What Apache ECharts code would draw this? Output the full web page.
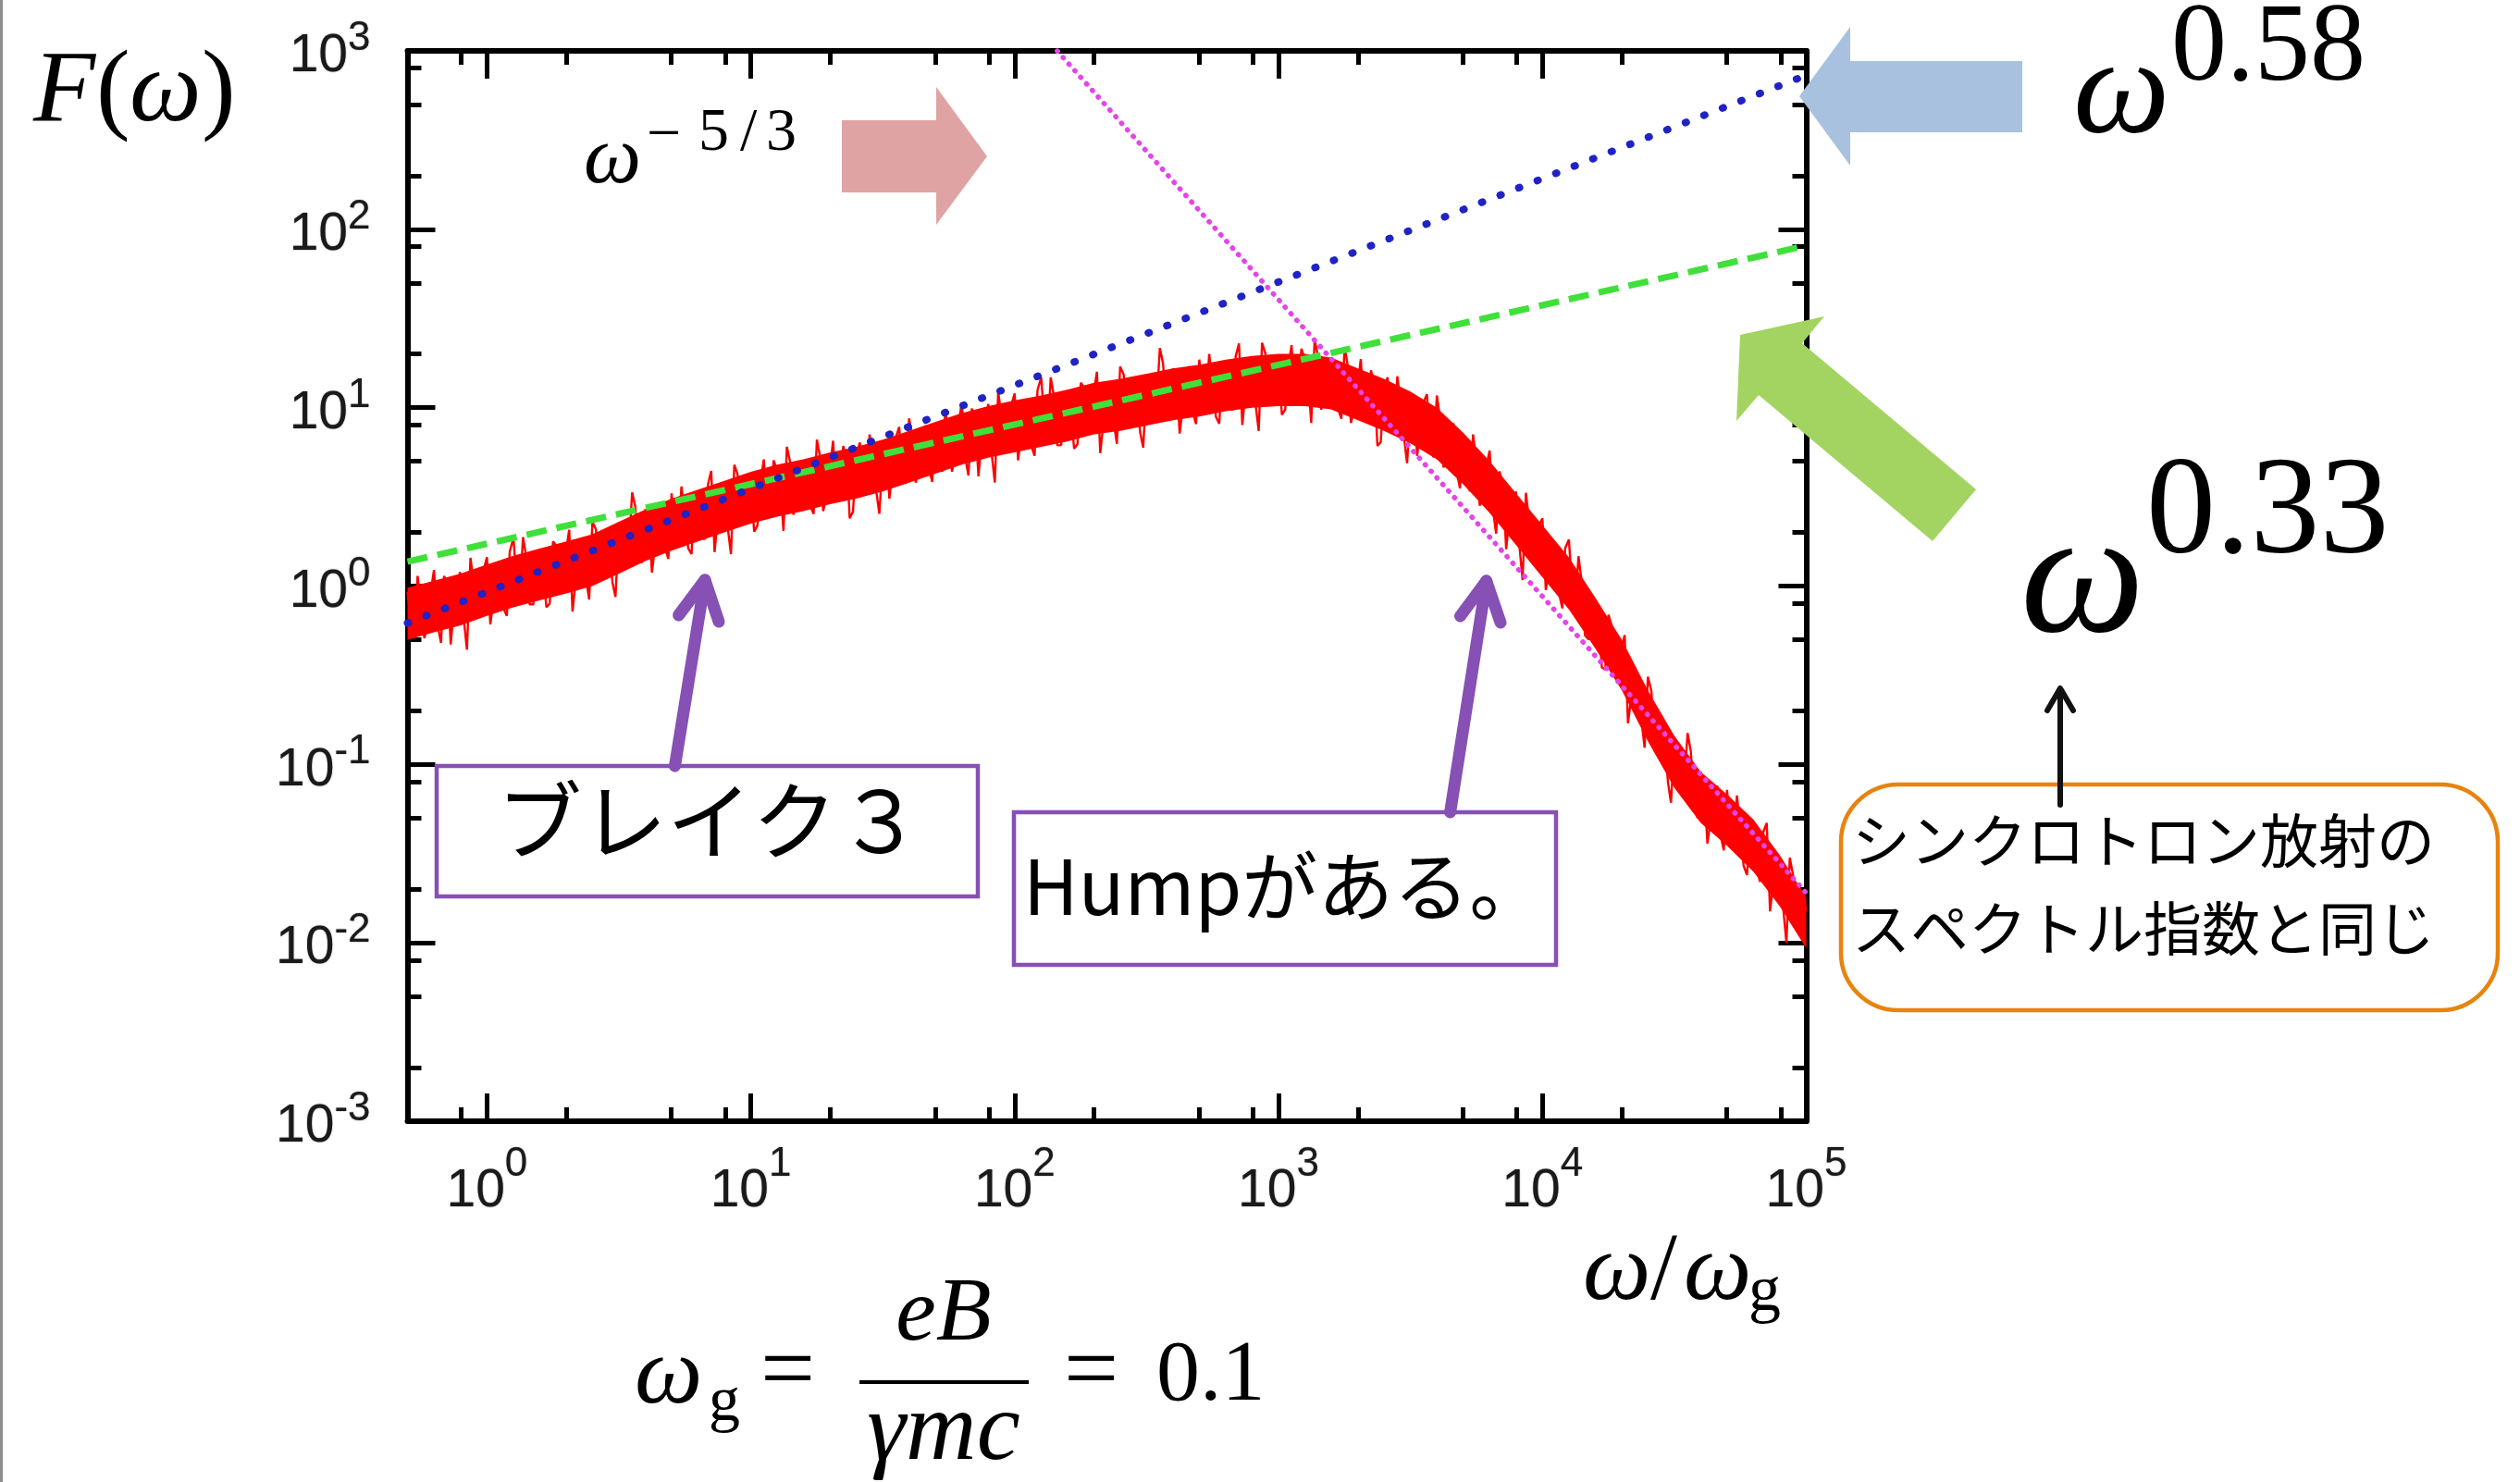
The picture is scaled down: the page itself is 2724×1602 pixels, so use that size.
<!DOCTYPE html>
<html>
<head>
<meta charset="utf-8">
<script src="https://cdn.jsdelivr.net/npm/echarts@6/dist/echarts.min.js"></script>
<style>
  html, body { margin: 0; padding: 0; background: #ffffff; }
  #chart { width: 2724px; height: 1602px; }
</style>
</head>
<body>
<div id="chart"></div>
<script>
// Frequency samples, omega / omega_g
const omega = [
  0.5, 0.515, 0.53, 0.546, 0.56, 0.579, 0.6, 0.613, 0.63, 0.649, 0.67, 0.688, 0.71, 0.729, 0.75, 0.772, 0.79, 0.818, 0.84, 0.866, 0.89, 0.917, 0.94, 0.972,
  1, 1.03, 1.06, 1.09, 1.12, 1.16, 1.19, 1.22, 1.26, 1.3, 1.33, 1.37, 1.41, 1.45, 1.5, 1.54, 1.58, 1.63, 1.68, 1.73, 1.78, 1.83, 1.88, 1.94, 2, 2.05,
  2.11, 2.18, 2.24, 2.31, 2.37, 2.44, 2.51, 2.59, 2.66, 2.74, 2.82, 2.9, 2.99, 3.07, 3.16, 3.26, 3.35, 3.45, 3.55, 3.65, 3.76, 3.87, 3.98, 4.1, 4.22, 4.34, 4.47, 4.6, 4.73, 4.87,
  5.01, 5.16, 5.31, 5.46, 5.62, 5.79, 5.96, 6.13, 6.31, 6.49, 6.68, 6.88, 7.08, 7.29, 7.5, 7.72, 7.94, 8.18, 8.41, 8.66, 8.91, 9.17, 9.44, 9.72,
  10, 10.3, 10.6, 10.9, 11.2, 11.6, 11.9, 12.2, 12.6, 13, 13.3, 13.7, 14.1, 14.5, 15, 15.4, 15.8, 16.3, 16.8, 17.3, 17.8, 18.3, 18.8, 19.4, 20, 20.5,
  21.1, 21.8, 22.4, 23.1, 23.7, 24.4, 25.1, 25.9, 26.6, 27.4, 28.2, 29, 29.9, 30.7, 31.6, 32.6, 33.5, 34.5, 35.5, 36.5, 37.6, 38.7, 39.8, 41, 42.2, 43.4, 44.7, 46, 47.3, 48.7,
  50.1, 51.6, 53.1, 54.6, 56.2, 57.9, 59.6, 61.3, 63.1, 64.9, 66.8, 68.8, 70.8, 72.9, 75, 77.2, 79.4, 81.8, 84.1, 86.6, 89.1, 91.7, 94.4, 97.2,
  100, 103, 106, 109, 112, 116, 119, 122, 126, 130, 133, 137, 141, 145, 150, 154, 158, 163, 168, 173, 178, 183, 188, 194, 200, 205,
  211, 218, 224, 231, 237, 244, 251, 259, 266, 274, 282, 290, 299, 307, 316, 326, 335, 345, 355, 365, 376, 387, 398, 410, 422, 434, 447, 460, 473, 487,
  501, 516, 531, 546, 562, 579, 596, 613, 631, 649, 668, 688, 708, 729, 750, 772, 794, 818, 841, 866, 891, 917, 944, 972,
  1000, 1030, 1060, 1090, 1120, 1160, 1190, 1220, 1260, 1300, 1330, 1370, 1410, 1450, 1500, 1540, 1580, 1630, 1680, 1730, 1780, 1830, 1880, 1940, 2000, 2050,
  2110, 2180, 2240, 2310, 2370, 2440, 2510, 2590, 2660, 2740, 2820, 2900, 2990, 3070, 3160, 3260, 3350, 3450, 3550, 3650, 3760, 3870, 3980, 4100, 4220, 4340, 4470, 4600, 4730, 4870,
  5010, 5160, 5310, 5460, 5620, 5790, 5960, 6130, 6310, 6490, 6680, 6880, 7080, 7290, 7500, 7720, 7940, 8180, 8410, 8660, 8910, 9170, 9440, 9720,
  10000, 10300, 10600, 10900, 11200, 11600, 11900, 12200, 12600, 13000, 13300, 13700, 14100, 14500, 15000, 15400, 15800, 16300, 16800, 17300, 17800, 18300, 18800, 19400, 20000, 20500,
  21100, 21800, 22400, 23100, 23700, 24400, 25100, 25900, 26600, 27400, 28200, 29000, 29900, 30700, 31600, 32600, 33500, 34500, 35500, 36500, 37600, 38700, 39800, 41000, 42200, 43400, 44700, 46000, 47300, 48700,
  50100, 51600, 53100, 54600, 56200, 57900, 59600, 61300, 63100, 64900, 66800, 68800, 70800, 72900, 75000, 77200, 79400, 81800, 84100, 86600, 89100, 91700, 94400, 97200,
  100000
];

// Spectrum F(omega) at the samples above
const spectrumF = [
  0.93, 0.64, 0.51, 1.14, 0.83, 0.51, 0.63, 0.94, 1.23, 0.61, 0.48, 1.14, 1.0, 0.47, 0.76, 0.92, 1.2, 0.64, 0.44, 1.44,
  1.06, 0.76, 0.71, 1.24, 1.45, 0.61, 0.85, 1.17, 1.08, 0.74, 0.68, 1.56, 1.86, 1.01, 0.87, 1.88, 1.45, 0.79, 0.79, 1.46,
  1.41, 1.24, 0.76, 0.8, 1.78, 1.68, 1.12, 1.01, 1.62, 2.07, 0.72, 1.16, 1.82, 1.64, 1.12, 0.84, 2.29, 2.08, 1.07, 1.14,
  1.68, 1.75, 1.05, 0.87, 2.04, 2.18, 1.35, 1.61, 3.35, 2.78, 1.58, 1.35, 2.69, 2.44, 1.19, 1.71, 2.4, 2.93, 1.64, 1.42,
  3.31, 2.02, 1.86, 3.62, 2.48, 1.63, 1.51, 3.05, 3.31, 1.98, 1.82, 3.71, 4.42, 1.55, 2.45, 3.05, 3.39, 2.12, 1.51, 4.78,
  4.22, 2.52, 2.45, 4.11, 3.55, 2.02, 2.19, 3.85, 5.13, 2.43, 2.82, 5.07, 4.47, 3.27, 2.04, 6.04, 4.95, 2.51, 3.31, 4.63,
  4.68, 3.94, 2.82, 2.54, 6.61, 5.31, 2.63, 3.2, 4.68, 6.52, 3.31, 3.64, 6.1, 5.12, 2.4, 2.61, 5.37, 6.38, 3.8, 3.43,
  7.08, 5.19, 3.39, 2.54, 5.13, 6.25, 3.09, 4.56, 6.84, 7.78, 4.27, 3.75, 8.71, 6.7, 3.8, 4.67, 6.68, 7.96, 4.57, 3.84,
  7.94, 5.45, 4.37, 9.75, 7.16, 4.38, 5.5, 8.2, 10.7, 5.31, 4.17, 9.89, 8.71, 4.12, 6.61, 8.04, 10.5, 5.55, 3.8, 12.3,
  9.02, 6.44, 5.89, 10.4, 12.0, 5.06, 7.08, 9.57, 8.81, 6.01, 5.37, 12.5, 14.8, 8.02, 6.92, 14.8, 11.4, 6.15, 6.17, 11.4,
  11.0, 9.66, 5.89, 6.24, 13.8, 13.0, 8.71, 7.85, 12.6, 15.9, 5.56, 8.86, 13.8, 12.4, 8.41, 6.27, 17.0, 15.3, 7.76, 8.15,
  11.9, 12.3, 7.24, 5.97, 13.8, 14.6, 8.91, 10.5, 21.6, 17.7, 10.0, 8.43, 16.6, 14.9, 7.16, 10.2, 14.1, 17.1, 9.44, 8.08,
  18.6, 11.3, 10.5, 20.0, 13.6, 8.89, 8.13, 16.4, 17.8, 10.5, 9.66, 19.4, 22.9, 7.99, 12.4, 15.4, 17.0, 10.5, 7.41, 23.1,
  20.2, 11.9, 11.5, 19.0, 16.2, 9.12, 9.77, 17.0, 22.4, 10.5, 12.0, 21.4, 18.6, 13.4, 8.22, 24.1, 19.5, 9.72, 12.7, 17.5,
  17.4, 14.2, 9.89, 8.66, 21.9, 17.1, 8.22, 9.72, 13.8, 18.7, 9.23, 9.94, 16.2, 13.3, 6.1, 6.42, 12.9, 14.8, 8.51, 7.48,
  15.0, 10.6, 6.76, 4.89, 9.55, 11.2, 5.37, 7.52, 10.8, 11.9, 6.17, 5.26, 11.7, 8.56, 4.62, 5.34, 7.24, 8.18, 4.42, 3.53,
  6.92, 4.47, 3.39, 7.08, 4.9, 2.82, 3.31, 4.68, 5.75, 2.68, 1.97, 4.39, 3.63, 1.61, 2.43, 2.77, 3.39, 1.69, 1.08, 3.33,
  2.29, 1.54, 1.33, 2.2, 2.4, 0.95, 1.24, 1.59, 1.38, 0.89, 0.75, 1.63, 1.82, 0.92, 0.73, 1.47, 1.05, 0.53, 0.5, 0.85,
  0.76, 0.62, 0.35, 0.34, 0.69, 0.6, 0.37, 0.31, 0.46, 0.53, 0.17, 0.25, 0.35, 0.29, 0.18, 0.124, 0.31, 0.256, 0.12, 0.115,
  0.15, 0.147, 0.08, 0.061, 0.13, 0.127, 0.072, 0.08, 0.15, 0.119, 0.063, 0.05, 0.091, 0.078, 0.036, 0.049, 0.065, 0.076, 0.04, 0.033,
  0.072, 0.042, 0.037, 0.067, 0.044, 0.027, 0.024, 0.045, 0.047, 0.026, 0.022, 0.042, 0.047, 0.015, 0.022, 0.026, 0.027, 0.0155, 0.010, 0.03,
  0.024, 0.0134, 0.012, 0.0186,
  0.015
];

// Dense core of the spectrum: upper / lower envelope
const coreOmega = [
  0.5, 0.63, 0.79, 1, 1.26, 1.58, 2, 2.51, 3.16, 3.98, 5.01, 6.31, 7.94, 10, 12.6, 15.8, 20, 25.1,
  31.6, 39.8, 50.1, 63.1, 79.4, 100, 126, 158, 200, 251, 316, 398, 501, 631, 794, 1000, 1260, 1580,
  2000, 2510, 3160, 3980, 5010, 6310, 7940, 10000, 12600, 15800, 20000, 25100, 31600, 39800, 50100, 63100, 79400, 100000
];
const coreUpper = [
  0.98, 1.07, 1.17, 1.32, 1.48, 1.62, 1.78, 1.95, 2.29, 2.69, 3.09, 3.47, 3.89, 4.37, 4.79, 5.13, 5.62, 6.03,
  6.61, 7.41, 8.32, 9.33, 10.2, 11.0, 11.7, 12.6, 13.8, 14.5, 15.5, 16.6, 17.4, 18.6, 19.5, 20.0, 20.0, 19.1,
  16.6, 14.5, 12.3, 10.0, 7.24, 5.01, 3.31, 2.19, 1.45, 0.87, 0.5, 0.26, 0.145, 0.091, 0.068, 0.049, 0.031, 0.018
];
const coreLower = [
  0.5, 0.55, 0.6, 0.68, 0.76, 0.83, 0.91, 1.0, 1.17, 1.38, 1.58, 1.78, 2.0, 2.24, 2.45, 2.63, 2.88, 3.09,
  3.39, 3.8, 4.27, 4.79, 5.25, 5.62, 6.03, 6.46, 7.08, 7.41, 7.94, 8.51, 8.91, 9.55, 10.0, 10.2, 10.2, 9.77,
  8.51, 7.41, 6.31, 5.13, 3.72, 2.57, 1.7, 1.12, 0.74, 0.45, 0.26, 0.135, 0.074, 0.047, 0.035, 0.025, 0.016, 0.0093
];

// Power-law guide lines (end points)
const fitSlope058 = [[0.5, 0.62], [100000, 730]];
const fitSlope033 = [[0.5, 1.37], [100000, 81]];
const fitSlopeKolmogorov = [[145, 1000], [100000, 0.019]];

// Axis decades and minor ticks
const xDecades = [0, 1, 2, 3, 4, 5];
const yDecades = [-3, -2, -1, 0, 1, 2, 3];
const xMinorTicks = [0.8, 2, 5, 8, 20, 50, 80, 200, 500, 800, 2000, 5000, 8000, 20000, 50000, 80000];
const yMinorTicks = [0.002, 0.005, 0.008, 0.02, 0.05, 0.08, 0.2, 0.5, 0.8, 2, 5, 8, 20, 50, 80, 200, 500, 800];

const lg = Math.log10;
const X_MIN = lg(0.5), X_MAX = 5, Y_MIN = -3, Y_MAX = 3;

const PURPLE = '#8650b4';
const SERIF = 'Liberation Serif';
const JP = 'Noto Sans CJK JP';
const AXIS_FONT = 'Liberation Sans';

const pts = arr => arr.map(p => [lg(p[0]), lg(p[1])]);

const tickStyle = { color: '#000', width: 5 };
const frameStyle = { color: '#000', width: 6 };

function expLabel(v) { return '{b|10}{s|' + Math.round(v) + '}'; }
function richFor(lineH) {
  const common = { fontFamily: AXIS_FONT, color: '#1a1a1a', textShadowColor: 'rgba(0,0,0,0.55)', textShadowBlur: 1.5, lineHeight: lineH };
  return {
    b: Object.assign({ fontSize: 57, verticalAlign: 'bottom' }, common),
    s: Object.assign({ fontSize: 44, verticalAlign: 'top' }, common)
  };
}

function makeAxis(pos, isX, major, withLabel) {
  const tickVals = major ? (isX ? xDecades : yDecades) : (isX ? xMinorTicks : yMinorTicks).map(lg);
  const ax = {
    type: 'value', position: pos,
    min: isX ? X_MIN : Y_MIN, max: isX ? X_MAX : Y_MAX,
    axisLine: { show: major, onZero: false, lineStyle: frameStyle },
    axisTick: { show: true, inside: true, length: major ? 30 : 15, customValues: tickVals, lineStyle: tickStyle },
    axisLabel: { show: false },
    splitLine: { show: false }
  };
  if (withLabel) {
    ax.axisLabel = {
      show: true,
      customValues: isX ? xDecades : yDecades,
      margin: isX ? 25 : 40,
      fontFamily: AXIS_FONT,
      fontSize: 57,
      color: '#1a1a1a',
      formatter: expLabel,
      rich: richFor(isX ? 80 : 70)
    };
  }
  return ax;
}

function text(x, y, str, size, italic, family, align) {
  return {
    type: 'text', x: x, y: y, z: 100,
    style: {
      text: str, fontFamily: family || SERIF, fontSize: size, fontStyle: italic ? 'italic' : 'normal',
      fill: '#000', textAlign: align || 'left', textVerticalAlign: 'middle', verticalAlign: 'middle'
    }
  };
}
function poly(points, fill) {
  return { type: 'polygon', z: 100, shape: { points: points }, style: { fill: fill } };
}
function stroke(points, color, width) {
  return { type: 'polyline', z: 101, shape: { points: points },
    style: { stroke: color, lineWidth: width, lineCap: 'round', lineJoin: 'round', fill: null } };
}

const chart = echarts.init(document.getElementById('chart'), null, { width: 2724, height: 1602, renderer: 'canvas' });

chart.setOption({
  animation: false,
  backgroundColor: '#ffffff',
  grid: { left: 440.5, right: 771.5, top: 55, bottom: 390, containLabel: false, outerBoundsMode: 'none' },
  xAxis: [
    makeAxis('bottom', true, true, true),
    makeAxis('bottom', true, false, false),
    makeAxis('top', true, true, false),
    makeAxis('top', true, false, false)
  ],
  yAxis: [
    makeAxis('left', false, true, true),
    makeAxis('left', false, false, false),
    makeAxis('right', false, true, false),
    makeAxis('right', false, false, false)
  ],
  series: [
    {
      type: 'custom', name: 'core', silent: true, z: 1, clip: true,
      data: coreOmega.map((w, i) => [lg(w), lg(coreUpper[i])]),
      renderItem: function (params, api) {
        if (params.dataIndex !== 0) return null;
        const p = [];
        for (let i = 0; i < coreOmega.length; i++) p.push(api.coord([lg(coreOmega[i]), lg(coreUpper[i])]));
        for (let i = coreOmega.length - 1; i >= 0; i--) p.push(api.coord([lg(coreOmega[i]), lg(coreLower[i])]));
        return { type: 'polygon', shape: { points: p }, style: { fill: '#ff0000' } };
      }
    },
    {
      type: 'line', name: 'F', z: 2, symbol: 'none', showSymbol: false,
      data: omega.map((w, i) => [lg(w), lg(spectrumF[i])]),
      lineStyle: { color: '#ff0000', width: 2.4 }
    },
    {
      type: 'line', name: 'w033', z: 3, symbol: 'none',
      data: pts(fitSlope033),
      lineStyle: { color: '#3fe03a', width: 7, type: [22, 11] }
    },
    {
      type: 'line', name: 'w058', z: 4, symbol: 'none',
      data: pts(fitSlope058),
      lineStyle: { color: '#1f23c4', width: 8, type: [1, 20.5], cap: 'round' }
    },
    {
      type: 'line', name: 'w-5/3', z: 5, symbol: 'none',
      data: pts(fitSlopeKolmogorov),
      lineStyle: { color: '#e545e6', width: 5.5, type: [0.5, 9], cap: 'round' }
    }
  ],
  graphic: [
    // slide edge
    { type: 'rect', z: 100, shape: { x: 0, y: 0, width: 3, height: 1602 }, style: { fill: '#8e8e8e' } },

    // block arrows
    poly([[910, 130], [1012, 130], [1012, 94], [1067, 169], [1012, 243], [1012, 208], [910, 208]], '#e0a3a3'),
    poly([[1945, 104], [2000, 29], [2000, 66], [2186, 66], [2186, 143], [2000, 143], [2000, 179]], '#a7c1df'),
    poly([[2136, 529], [1948, 371], [1972, 342], [1881, 362], [1877, 455], [1901, 427], [2089, 585]], '#a3d462'),

    // annotation boxes
    { type: 'rect', z: 100, shape: { x: 472, y: 828, width: 585, height: 141 },
      style: { fill: '#ffffff', stroke: PURPLE, lineWidth: 4.5 } },
    text(537, 887, 'ブレイク３', 92, false, JP),
    { type: 'rect', z: 100, shape: { x: 1096, y: 878, width: 586, height: 165 },
      style: { fill: '#ffffff', stroke: PURPLE, lineWidth: 4.5 } },
    text(1106, 958, 'Humpがある。', 82, false, JP),
    { type: 'rect', z: 100, shape: { x: 1990, y: 848, width: 710, height: 244, r: 62 },
      style: { fill: '#ffffff', stroke: '#e8830f', lineWidth: 4.5 } },
    text(2002, 908, 'シンクロトロン放射の', 63, false, JP),
    text(2002, 1003, 'スペクトル指数と同じ', 63, false, JP),

    // pointer arrows
    stroke([[729.5, 828], [762, 627]], PURPLE, 13),
    stroke([[733.6, 665], [762, 627], [777, 672]], PURPLE, 13),
    stroke([[1567.6, 878], [1606.7, 628]], PURPLE, 13),
    stroke([[1578.5, 666], [1606.7, 628], [1622, 673]], PURPLE, 13),
    stroke([[2227, 870], [2227, 746]], '#111111', 6),
    stroke([[2213, 768], [2227, 744], [2241, 768]], '#111111', 6),

    // formulae
    text(36, 101, 'F', 110, true),
    text(104, 101, '(', 110, false),
    text(140, 101, 'ω', 110, true),
    text(218, 101, ')', 110, false),
    text(631, 174, 'ω', 88, true),
    text(699, 148, '−', 66, false),
    text(755, 145, '5', 66, false),
    text(800, 145, '/', 66, false),
    text(828, 145, '3', 66, false),
    text(2241, 104, 'ω', 148, true),
    text(2347, 54, '0.58', 120, false),
    text(2184, 632, 'ω', 190, true),
    text(2320, 558, '0.33', 150, false),
    text(1711, 1377, 'ω', 104, true),
    text(1784, 1377, '/', 104, false),
    text(1820, 1377, 'ω', 104, true),
    text(1890, 1398, 'g', 70, false),
    text(686, 1489, 'ω', 104, true),
    text(766, 1517, 'g', 68, false),
    text(822, 1486, '=', 105, false),
    text(1020, 1422, 'eB', 98, true, SERIF, 'center'),
    { type: 'line', z: 100, shape: { x1: 929, y1: 1494, x2: 1112, y2: 1494 }, style: { stroke: '#000', lineWidth: 4 } },
    text(1020, 1549, 'γmc', 106, true, SERIF, 'center'),
    text(1150, 1486, '=', 105, false),
    text(1250, 1488, '0.1', 94, false)
  ]
});
</script>
</body>
</html>
